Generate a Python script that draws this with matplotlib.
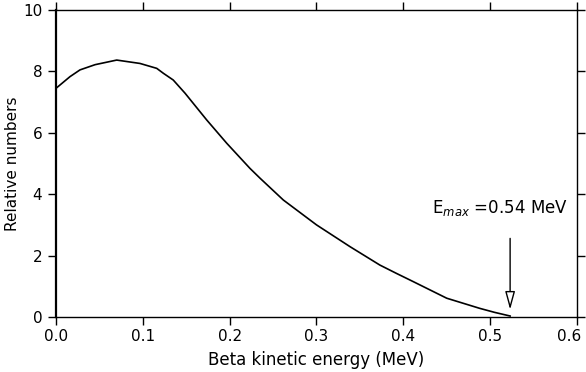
import matplotlib
matplotlib.use("Agg")
import matplotlib.pyplot as plt
from matplotlib.transforms import ScaledTranslation

# Beta spectrum
energy = [0.0, 0.0161, 0.0276, 0.045, 0.0699, 0.0967, 0.116, 0.1236, 0.135,
          0.1486, 0.1735, 0.1966, 0.2234, 0.235, 0.2618, 0.300, 0.3386,
          0.373, 0.392, 0.4115, 0.45, 0.488, 0.505, 0.523]
counts = [7.45, 7.83, 8.05, 8.22, 8.37, 8.26, 8.10, 7.94, 7.72,
          7.29, 6.42, 5.66, 4.84, 4.52, 3.81, 3.00, 2.29,
          1.69, 1.42, 1.15, 0.61, 0.28, 0.15, 0.03]

x_ticks = [0.0, 0.1, 0.2, 0.3, 0.4, 0.5, 0.6]
x_tick_labels = ["0.0", "0.1", "0.2", "0.3", "0.4", "0.5", "0.6"]
y_ticks = [0, 2, 4, 6, 8, 10]

e_max_pos = 0.523
e_max_label = "E$_{max}$ =0.54 MeV"

fig = plt.figure(figsize=(5.86, 3.72), dpi=100)
ax = fig.add_axes([0.0956, 0.148, 0.889, 0.825])

ax.plot(energy, counts, color="black", lw=1.2)

ax.set_xlim(0, 0.6)
ax.set_ylim(0, 10)
ax.set_xticks(x_ticks)
ax.set_xticklabels(x_tick_labels)
ax.set_yticks(y_ticks)

ax.tick_params(direction="out", length=6, width=1, labelsize=11,
               top=True, right=True, color="black")
ax.tick_params(axis="x", pad=3)
ax.tick_params(axis="y", pad=4)

for side in ["top", "bottom", "right"]:
    ax.spines[side].set_linewidth(1.0)
ax.spines["left"].set_linewidth(1.6)

ax.set_xlabel("Beta kinetic energy (MeV)", fontsize=12, labelpad=5)
ax.set_ylabel("Relative numbers", fontsize=11)
ax.yaxis.set_label_coords(-0.07, 0.5)

# E_max marker
ax.annotate("", xy=(e_max_pos, 0.15), xytext=(e_max_pos, 2.65),
            arrowprops=dict(arrowstyle="-|>,head_length=1.1,head_width=0.3",
                            facecolor="white", edgecolor="black", lw=1))
ax.text(0.433, 3.55, e_max_label, fontsize=12, va="center", ha="left")

# nudge the last x label so it stays inside the figure
last = ax.get_xticklabels()[-1]
last.set_transform(last.get_transform() + ScaledTranslation(-6 / 72, 0, fig.dpi_scale_trans))

fig.savefig("out.png", dpi=100)
